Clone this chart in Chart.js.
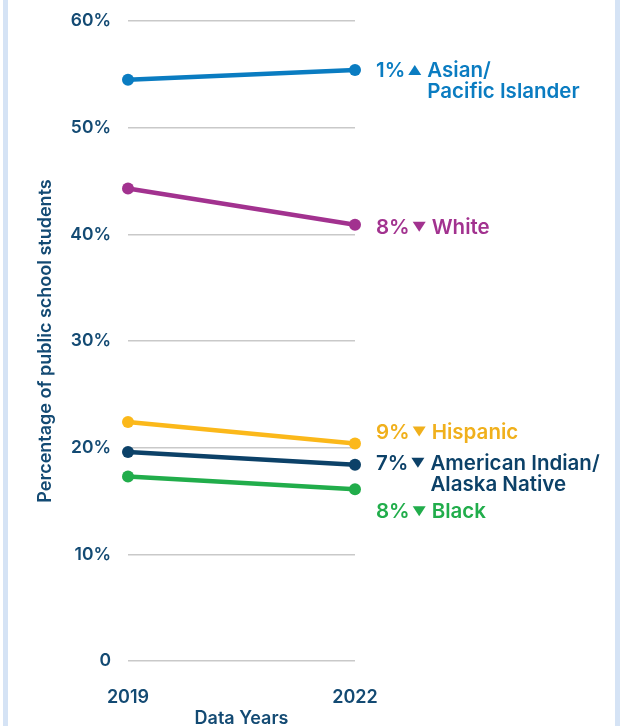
<!DOCTYPE html>
<html>
<head>
<meta charset="utf-8">
<script src="https://cdn.jsdelivr.net/npm/chart.js@4"></script>
<style>
  html, body { margin: 0; padding: 0; background: #ffffff; }
  #wrap { position: relative; width: 634px; height: 726px; overflow: hidden; }
  .edge { position: absolute; top: 0; bottom: 0; width: 5px; background: #d5e3f5; }
  canvas { position: absolute; left: 0; top: 0; }
</style>
</head>
<body>
<div id="wrap">
  <canvas id="chart" width="634" height="726"></canvas>
  <div class="edge" style="left:3px"></div>
  <div class="edge" style="left:615px"></div>
</div>
<script>
// Share of public school students by race/ethnicity, 2019 vs 2022
const years = ['2019', '2022'];
const groups = ['Asian/Pacific Islander', 'White', 'Hispanic', 'American Indian/Alaska Native', 'Black'];
const nameLines = [['Asian/', 'Pacific Islander'], ['White'], ['Hispanic'], ['American Indian/', 'Alaska Native'], ['Black']];
const asian = [54.5, 55.4];
const white = [44.3, 40.9];
const hispanic = [22.4, 20.4];
const aian = [19.6, 18.4];
const black = [17.3, 16.1];
const changePct = [1, 8, 9, 7, 8];
const changeDir = ['up', 'down', 'down', 'down', 'down'];
const yTicks = [0, 10, 20, 30, 40, 50, 60];

const colors = ['#0a7cc1', '#a2328f', '#fbb81a', '#0c4168', '#21ad4b'];
const textColors = ['#0a7cc1', '#a2328f', '#f0b01c', '#0c4168', '#21ad4b'];
const navy = '#134a73';
const FONT = 'Inter, "Noto Sans", sans-serif';

const seriesValues = [asian, white, hispanic, aian, black];

// Right-hand labels: change, arrow, group name
const endLabels = {
  id: 'endLabels',
  afterDatasetsDraw(chart, args, opts) {
    const ctx = chart.ctx;
    ctx.save();
    ctx.textBaseline = 'middle';
    chart.data.datasets.forEach((ds, i) => {
      const meta = chart.getDatasetMeta(i);
      const pt = meta.data[meta.data.length - 1];
      const x0 = pt.x + opts.gap;
      const y0 = pt.y + opts.shift[i];
      ctx.fillStyle = textColors[i];
      ctx.font = '600 20.5px ' + FONT;
      ctx.textAlign = 'left';
      const pct = changePct[i] + '%';
      ctx.fillText(pct, x0, y0 + 1);
      const tx = x0 + ctx.measureText(pct).width + 3;
      const tw = 13, th = 10;
      ctx.beginPath();
      if (changeDir[i] === 'up') {
        ctx.moveTo(tx, y0 + th / 2);
        ctx.lineTo(tx + tw, y0 + th / 2);
        ctx.lineTo(tx + tw / 2, y0 - th / 2);
      } else {
        ctx.moveTo(tx, y0 - th / 2);
        ctx.lineTo(tx + tw, y0 - th / 2);
        ctx.lineTo(tx + tw / 2, y0 + th / 2);
      }
      ctx.closePath();
      ctx.fill();
      const nx = tx + tw + 6;
      nameLines[i].forEach((line, k) => {
        ctx.fillText(line, nx, y0 + 1 + k * 21);
      });
    });
    ctx.restore();
  }
};

new Chart(document.getElementById('chart'), {
  type: 'line',
  data: {
    labels: years,
    datasets: groups.map((g, i) => ({
      label: g,
      data: seriesValues[i],
      borderColor: colors[i],
      backgroundColor: colors[i],
      borderWidth: 4.5,
      pointRadius: 6,
      pointHoverRadius: 6,
      pointBorderWidth: 0,
      fill: false,
      tension: 0
    }))
  },
  options: {
    responsive: false,
    animation: false,
    devicePixelRatio: 1,
    layout: { padding: { left: 0, right: 279, top: 21, bottom: 0 } },
    plugins: {
      legend: { display: false },
      tooltip: { enabled: false },
      endLabels: { gap: 21, shift: [0, 2, -12, -2, 22] }
    },
    scales: {
      x: {
        type: 'category',
        offset: false,
        grid: { display: false, drawTicks: false },
        border: { display: false },
        ticks: { color: navy, font: { family: FONT, size: 18, weight: '600' }, padding: 26, maxRotation: 0 },
        title: { display: true, text: 'Data Years', color: navy, font: { family: FONT, size: 18, weight: '600' }, padding: { top: 0, bottom: -3 } },
        afterFit(scale) {
          scale.height = 65;
          scale.paddingLeft = 0;
          scale.paddingRight = 0;
        }
      },
      y: {
        min: 0,
        max: 60,
        afterBuildTicks(scale) { scale.ticks = yTicks.map(v => ({ value: v })); },
        grid: { color: '#c9c9c9', lineWidth: 1.5, drawTicks: false },
        border: { display: false },
        ticks: {
          color: navy,
          font: { family: FONT, size: 17.5, weight: '600' },
          padding: 17,
          callback: v => v === 0 ? '0' : v + '%'
        },
        title: { display: true, text: 'Percentage of public school students', color: navy, font: { family: FONT, size: 18, weight: '600' }, padding: { top: 35, bottom: 0 } },
        afterFit(scale) {
          scale.width = 128;
          scale.paddingTop = 0;
          scale.paddingBottom = 0;
        }
      }
    }
  },
  plugins: [endLabels]
});
</script>
</body>
</html>
